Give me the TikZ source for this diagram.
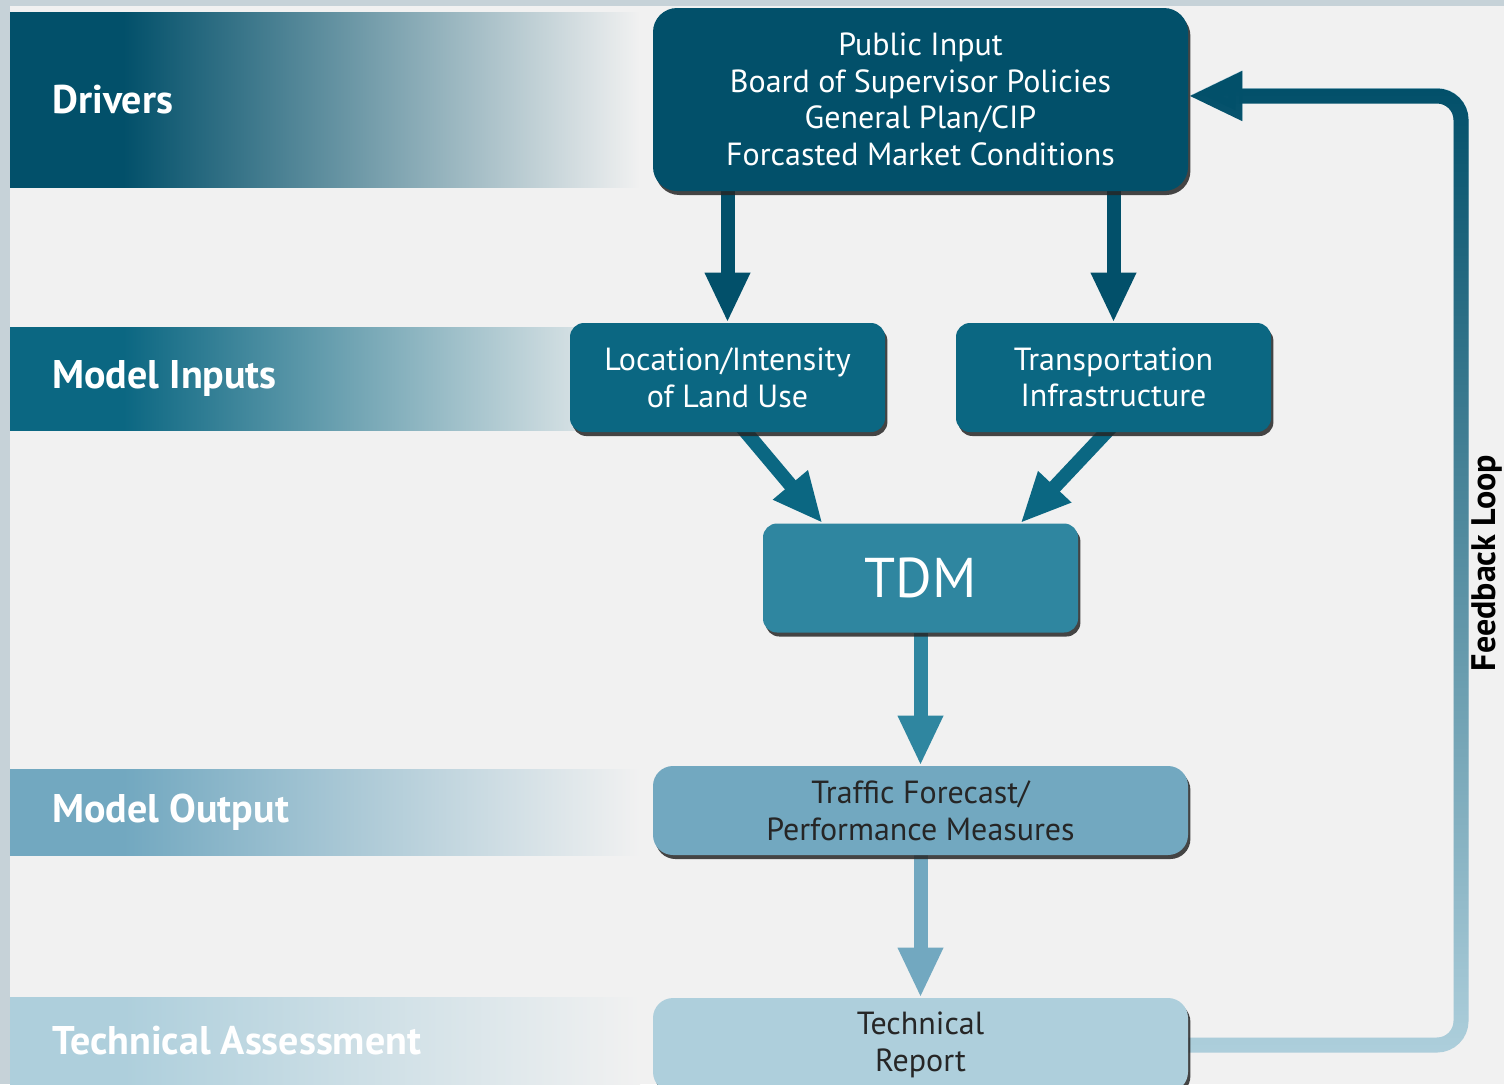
\documentclass[tikz,border=0pt]{standalone}
\usepackage{fontspec}
\setmainfont{PT Sans}
\usetikzlibrary{arrows.meta,shadows,fadings,backgrounds}
\definecolor{pagebg}{HTML}{F1F1F1}
\definecolor{edgebg}{HTML}{C6D2D8}
\definecolor{tealA}{HTML}{02506A}
\definecolor{tealB}{HTML}{0B6782}
\definecolor{tealC}{HTML}{2F86A0}
\definecolor{tealD}{HTML}{72A8C0}
\definecolor{tealE}{HTML}{AECFDC}
\tikzfading[name=fbfade, top color=transparent!0, middle color=transparent!25, bottom color=transparent!100]

\begin{document}
\begin{tikzpicture}[x=0.5pt,y=-0.5pt]
	\tikzset{flowbox/.style={rounded corners=7pt, minimum width=157.5pt, minimum height=54.5pt,
				align=center, text=white, font=\fontsize{16}{18.3}\selectfont,
				drop shadow={shadow xshift=1.2pt, shadow yshift=-2pt, opacity=.85, fill=black!85}}}
	\tikzset{flowarrow/.style={line width=7pt, -{Triangle[length=25pt,width=21pt]}}}
	\tikzset{fbline/.style={line width=7.5pt, rounded corners=12pt, -{Triangle[length=27pt,width=23pt]}}}
	\tikzset{bandlabel/.style={anchor=west, inner sep=0pt, text=white, font=\bfseries\fontsize{20}{22}\selectfont}}

	\useasboundingbox (0,0) rectangle (1504,1084);
	\begin{scope}[on background layer]
		\fill[edgebg] (0,0) rectangle (1504,1084);
		\fill[pagebg] (10,6) rectangle (1504,1084);
		\foreach \ytop/\ybot/\bandcol/\bandtext in {12/187/tealA/Drivers, 327/430/tealB/Model Inputs,
				769/855/tealD/Model Output, 997/1084/tealE/Technical Assessment}{
			\pgfdeclarehorizontalshading[\bandcol]{band\ytop}{100bp}
				{color(0bp)=(\bandcol); color(34bp)=(\bandcol); color(75bp)=(pagebg); color(100bp)=(pagebg)}
			\fill[shading=band\ytop, shading angle=0] (10,\ytop) rectangle (640,\ybot);
			\node[bandlabel] (label\ytop) at (52,{(\ytop+\ybot)/2}) {\bandtext};
		}
	\end{scope}

	\node[flowbox, fill=tealA, minimum width=267.5pt, minimum height=91.5pt, rounded corners=12pt] (drivers) at (920.5,99.5)
		{Public Input\\Board of Supervisor Policies\\General Plan/CIP\\Forcasted Market Conditions};
	\node[flowbox, fill=tealB] (landuse) at (727.5,377.5) {Location/Intensity\\of Land Use};
	\node[flowbox, fill=tealB] (transport) at (1113.5,377.5) {Transportation\\Infrastructure};
	\node[flowbox, fill=tealC, font=\fontsize{28}{30}\selectfont] (tdm) at (920.5,578) {TDM};
	\node[flowbox, fill=tealD, text=black!85, minimum width=267.5pt, minimum height=44.5pt, rounded corners=10pt] (forecast) at (920.5,810.5)
		{Traffic Forecast/\\Performance Measures};
	\node[flowbox, fill=tealE, text=black!85, minimum width=267.5pt, minimum height=47pt, rounded corners=10pt] (report) at (920.5,1045)
		{Technical\\Report};

	\begin{scope}[on background layer]
		\draw[flowarrow, tealA] (landuse.north |- drivers.south) -- (landuse.north);
		\draw[flowarrow, tealA] (transport.north |- drivers.south) -- (transport.north);
		\draw[flowarrow, tealB] ([xshift=6pt,yshift=4pt]landuse.south) -- ([xshift=-49pt]tdm.north);
		\draw[flowarrow, tealB] ([yshift=4pt]transport.south) -- ([xshift=50pt]tdm.north);
		\draw[flowarrow, tealC] (tdm.south) -- (forecast.north);
		\draw[flowarrow, tealD] (forecast.south) -- (report.north);
		\coordinate (fbpost) at (1461,560);
		\draw[fbline, tealE] (report.east) -| (fbpost) |- ([yshift=2pt]drivers.east);
		\draw[fbline, tealA, path fading=fbfade] (report.east) -| (fbpost) |- ([yshift=2pt]drivers.east);
	\end{scope}

	\node[rotate=90, font=\bfseries\fontsize{17}{19}\selectfont] (fblabel) at (1487,563) {Feedback Loop};
\end{tikzpicture}
\end{document}
